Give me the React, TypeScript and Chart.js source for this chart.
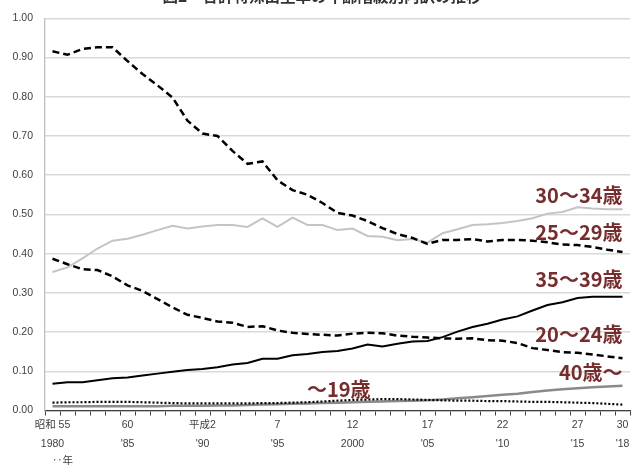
import { useEffect, useRef } from "react";
import { Chart, registerables } from "chart.js";

Chart.register(...registerables);

// ---- data ----
const years = [
  1980, 1981, 1982, 1983, 1984, 1985, 1986, 1987, 1988, 1989,
  1990, 1991, 1992, 1993, 1994, 1995, 1996, 1997, 1998, 1999,
  2000, 2001, 2002, 2003, 2004, 2005, 2006, 2007, 2008, 2009,
  2010, 2011, 2012, 2013, 2014, 2015, 2016, 2017, 2018,
];

const tickYears = [1980, 1985, 1990, 1995, 2000, 2005, 2010, 2015, 2018];
const tickEra = ["昭和 55", "60", "平成2", "7", "12", "17", "22", "27", "30"];
const tickWestern = ["1980", "'85", "'90", "'95", "2000", "'05", "'10", "'15", "'18"];
const yearUnit = "‥年";

const teen = [
  0.02, 0.021, 0.021, 0.022, 0.022, 0.022, 0.021, 0.02, 0.019, 0.018,
  0.018, 0.018, 0.018, 0.018, 0.019, 0.019, 0.02, 0.021, 0.023, 0.025,
  0.027, 0.028, 0.029, 0.029, 0.028, 0.027, 0.026, 0.025, 0.025, 0.024,
  0.024, 0.023, 0.022, 0.022, 0.021, 0.02, 0.019, 0.017, 0.015,
];
const age20_24 = [
  0.387, 0.373, 0.36, 0.358, 0.342, 0.319, 0.305, 0.284, 0.263, 0.244,
  0.236, 0.227, 0.224, 0.213, 0.215, 0.204, 0.198, 0.195, 0.193, 0.191,
  0.196, 0.198, 0.197, 0.191, 0.188, 0.186, 0.184, 0.183, 0.184, 0.179,
  0.178, 0.172, 0.159, 0.154, 0.149, 0.147, 0.143, 0.138, 0.133,
];
const age25_29 = [
  0.916, 0.907, 0.922, 0.926, 0.926, 0.891, 0.858, 0.829, 0.798, 0.739,
  0.706, 0.7, 0.662, 0.629, 0.635, 0.587, 0.562, 0.55, 0.529, 0.504,
  0.497, 0.483, 0.465, 0.45, 0.44, 0.425, 0.435, 0.435, 0.437, 0.431,
  0.435, 0.435, 0.433, 0.429, 0.423, 0.422, 0.417, 0.41, 0.404,
];
const age30_34 = [
  0.353, 0.365, 0.388, 0.413, 0.433, 0.438, 0.448, 0.46, 0.471, 0.464,
  0.469, 0.473, 0.473, 0.468, 0.49, 0.468, 0.492, 0.473, 0.473, 0.46,
  0.464, 0.445, 0.443, 0.434, 0.437, 0.428, 0.452, 0.462, 0.473, 0.475,
  0.478, 0.483, 0.49, 0.502, 0.506, 0.518, 0.515, 0.513, 0.513,
];
const age35_39 = [
  0.068, 0.072, 0.072, 0.077, 0.082, 0.084, 0.089, 0.094, 0.099, 0.103,
  0.106, 0.11, 0.117, 0.121, 0.132, 0.132, 0.141, 0.144, 0.149, 0.152,
  0.158, 0.168, 0.163, 0.17, 0.176, 0.177, 0.187, 0.201, 0.213, 0.221,
  0.232, 0.24, 0.255, 0.269, 0.276, 0.287, 0.29, 0.29, 0.29,
];
const age40plus = [
  0.011, 0.011, 0.011, 0.011, 0.011, 0.011, 0.011, 0.011, 0.012, 0.012,
  0.012, 0.013, 0.013, 0.014, 0.015, 0.016, 0.017, 0.018, 0.019, 0.02,
  0.021, 0.022, 0.023, 0.024, 0.025, 0.026, 0.028, 0.031, 0.034, 0.037,
  0.04, 0.043, 0.047, 0.051, 0.054, 0.057, 0.059, 0.061, 0.063,
];

const seriesNames = ["～19歳", "20～24歳", "25～29歳", "30～34歳", "35～39歳", "40歳～"];
// where each series name is written (category index of its right edge, value of its middle)
const nameAnchorIndex = [21.2, 38, 38, 38, 38, 38];
const nameAnchorValue = [0.053, 0.193, 0.455, 0.549, 0.334, 0.097];

const titleText = "図2　合計特殊出生率の年齢階級別内訳の推移";

const TICK_COLOR = "#404040";
const NAME_COLOR = "#762d2d";
const TICK_FONT = '"Liberation Sans", "Noto Sans CJK JP", sans-serif';

export default function App() {
  const ref = useRef<HTMLCanvasElement | null>(null);

  useEffect(() => {
    if (!ref.current) return;

    const overlay = {
      id: "overlayTexts",
      afterDatasetsDraw(chart: any) {
        const { ctx } = chart;
        const x = chart.scales.x;
        const y = chart.scales.y;
        ctx.save();
        ctx.fillStyle = NAME_COLOR;
        ctx.font = 'bold 20px "Noto Sans CJK JP", sans-serif';
        ctx.textAlign = "right";
        ctx.textBaseline = "middle";
        seriesNames.forEach((n, i) => {
          ctx.fillText(n, x.getPixelForValue(nameAnchorIndex[i]), y.getPixelForValue(nameAnchorValue[i]));
        });
        ctx.restore();
      },
      afterDraw(chart: any) {
        const { ctx } = chart;
        const x = chart.scales.x;
        ctx.save();
        ctx.fillStyle = "#333";
        ctx.font = 'bold 15.5px "Noto Sans CJK JP", sans-serif';
        ctx.textAlign = "center";
        ctx.textBaseline = "alphabetic";
        ctx.fillText(titleText, 322, 2);
        ctx.fillStyle = TICK_COLOR;
        ctx.font = '10.5px ' + TICK_FONT;
        ctx.textBaseline = "middle";
        ctx.fillText(yearUnit, x.getPixelForValue(0) + 10, 461);
        ctx.restore();
      },
    };

    const chart = new Chart(ref.current, {
      type: "line",
      data: {
        labels: years.map(String),
        datasets: [
          {
            label: seriesNames[0],
            data: teen,
            borderColor: "#000",
            borderWidth: 2.2,
            borderDash: [2, 2],
          },
          {
            label: seriesNames[1],
            data: age20_24,
            borderColor: "#000",
            borderWidth: 2.5,
            borderDash: [7, 4],
          },
          {
            label: seriesNames[2],
            data: age25_29,
            borderColor: "#000",
            borderWidth: 2.5,
            borderDash: [7, 4],
          },
          {
            label: seriesNames[3],
            data: age30_34,
            borderColor: "#c4c4c4",
            borderWidth: 2,
          },
          {
            label: seriesNames[4],
            data: age35_39,
            borderColor: "#000",
            borderWidth: 2,
          },
          {
            label: seriesNames[5],
            data: age40plus,
            borderColor: "#8a8a8a",
            borderWidth: 2.5,
          },
        ],
      },
      options: {
        animation: false,
        responsive: false,
        devicePixelRatio: 1,
        elements: {
          point: { radius: 0, hoverRadius: 0 },
          line: { tension: 0, fill: false },
        },
        layout: { padding: { top: 9.5, right: 5, left: 0, bottom: 0 } },
        plugins: {
          legend: { display: false },
          title: { display: false },
          tooltip: { enabled: false },
        },
        scales: {
          x: {
            type: "category",
            offset: true,
            grid: {
              display: true,
              drawOnChartArea: false,
              offset: true,
              tickLength: 5,
              color: TICK_COLOR,
              lineWidth: 1,
            },
            border: { display: true, color: TICK_COLOR, width: 1.3 },
            ticks: {
              autoSkip: false,
              maxRotation: 0,
              minRotation: 0,
              padding: 0.5,
              color: TICK_COLOR,
              font: { family: TICK_FONT, size: 10.5, lineHeight: "18.5px" } as any,
              callback: (_v: any, index: number) => {
                const k = tickYears.indexOf(years[index]);
                return k >= 0 ? [tickEra[k], tickWestern[k]] : "";
              },
            },
            afterFit: (scale: any) => {
              scale.height = 57.5;
            },
          },
          y: {
            min: 0,
            max: 1,
            grid: {
              color: "#d9d9d9",
              lineWidth: 1.4,
              drawTicks: false,
            },
            border: { display: true, color: "#bfbfbf", width: 1.3 },
            ticks: {
              stepSize: 0.1,
              padding: 12,
              color: TICK_COLOR,
              font: { family: TICK_FONT, size: 10.5 },
              callback: (v: any) => Number(v).toFixed(2),
            },
            afterFit: (scale: any) => {
              scale.width = 45;
            },
          },
        },
      },
      plugins: [overlay],
    });

    return () => chart.destroy();
  }, []);

  return (
    <div style={{ position: "fixed", left: 0, top: 0, width: 635, height: 468, background: "#fff" }}>
      <canvas ref={ref} width={635} height={468} style={{ display: "block", width: 635, height: 468 }} />
    </div>
  );
}
